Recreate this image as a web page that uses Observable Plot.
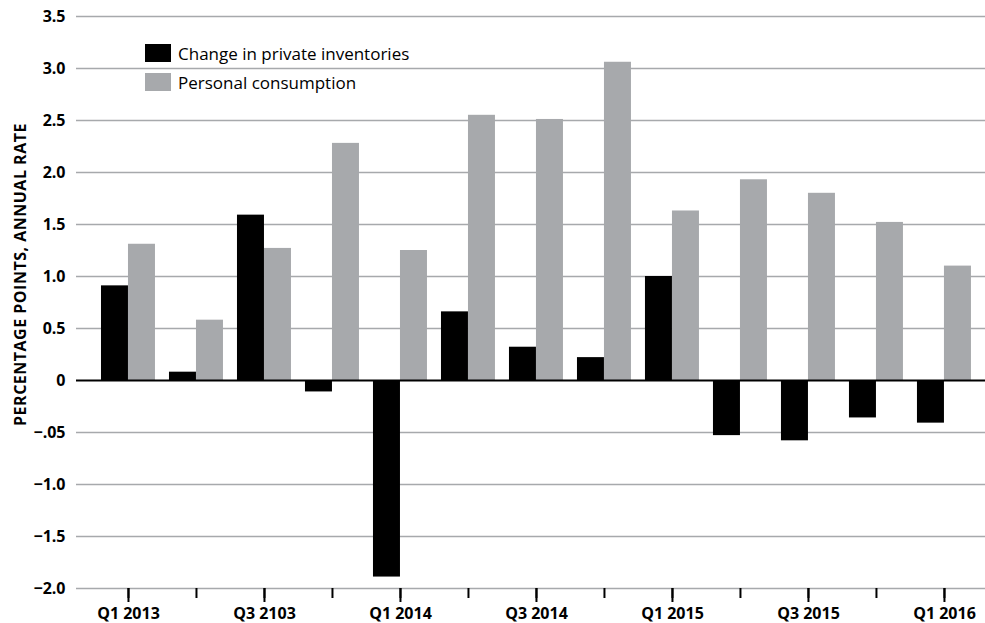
<!DOCTYPE html>
<html><head><meta charset="utf-8">
<script src="https://cdn.jsdelivr.net/npm/d3@7"></script>
<script src="https://cdn.jsdelivr.net/npm/@observablehq/plot@0.6"></script>
<style>
body{margin:0;background:#fff;}
#wrap{position:relative;width:985px;height:623px;font-family:"Open Sans",sans-serif;}
#legend{position:absolute;left:145px;top:44px;}
.item{display:flex;align-items:center;height:18px;margin-bottom:11px;font-size:17px;font-weight:500;color:#000;white-space:nowrap;}
.sw{width:26px;height:18px;margin-right:7px;flex:none;}
</style></head><body><div id="wrap"><div id="legend"></div></div>
<script>
const quarters = ["Q1 2013","Q2 2013","Q3 2103","Q4 2013","Q1 2014","Q2 2014","Q3 2014","Q4 2014","Q1 2015","Q2 2015","Q3 2015","Q4 2015","Q1 2016"];
const inventories = [0.91,0.08,1.59,-0.11,-1.89,0.66,0.32,0.22,1.00,-0.53,-0.58,-0.36,-0.41];
const consumption = [1.31,0.58,1.27,2.28,1.25,2.55,2.51,3.06,1.63,1.93,1.80,1.52,1.10];
const seriesNames = ["Change in private inventories","Personal consumption"];
const seriesColors = ["#000000","#a7a9ac"];
const yTicks = [-2,-1.5,-1,-0.5,0,0.5,1,1.5,2,2.5,3,3.5];
const yTickLabels = ["−2.0","−1.5","−1.0","−.05","0","0.5","1.0","1.5","2.0","2.5","3.0","3.5"];
const xTickLabels = ["Q1 2013","Q3 2103","Q1 2014","Q3 2014","Q1 2015","Q3 2015","Q1 2016"];
const yLabel = "PERCENTAGE POINTS, ANNUAL RATE";

const rows = quarters.flatMap((q, i) => [
  {quarter: q, series: seriesNames[0], value: inventories[i]},
  {quarter: q, series: seriesNames[1], value: consumption[i]}
]);

const half = 27;
const plot = Plot.plot({
  width: 985, height: 623,
  marginTop: 16, marginBottom: 35, marginLeft: 76, marginRight: 0,
  style: {fontFamily: '"Open Sans", sans-serif', fontSize: "16px", fontWeight: 700, color: "#000", background: "#fff"},
  x: {type: "band", domain: quarters, paddingInner: 0.206, paddingOuter: 0.287, align: 0.64, round: false, axis: null},
  y: {domain: [-2, 3.5], axis: null},
  color: {domain: seriesNames, range: seriesColors},
  marks: [
    Plot.gridY(yTicks.filter(d => d !== 0), {stroke: "#a7a9ac", strokeOpacity: 1, strokeWidth: 1.5}),
    Plot.barY(rows.filter(d => d.series === seriesNames[0]), {x: "quarter", y1: 0, y2: "value", fill: "series", insetLeft: 0, insetRight: half}),
    Plot.barY(rows.filter(d => d.series === seriesNames[1]), {x: "quarter", y1: 0, y2: "value", fill: "series", insetLeft: half, insetRight: 0}),
    Plot.ruleY([0], {stroke: "#000", strokeWidth: 2}),
    Plot.axisY({ticks: yTicks, tickSize: 0, tickPadding: 11, tickFormat: d => yTickLabels[yTicks.indexOf(d)], label: null, fontSize: 16}),
    Plot.axisX({ticks: quarters, tickSize: 10, strokeWidth: 2, stroke: "#000", tickFormat: () => "", label: null}),
    Plot.axisX({ticks: xTickLabels, tickSize: 14, strokeWidth: 2, stroke: "#000", tickPadding: 5, label: null, fontSize: 16}),
    Plot.text([yLabel], {frameAnchor: "left", rotate: -90, dx: -56, dy: -28, fontSize: 16, fontWeight: 700, textAnchor: "middle", lineAnchor: "middle", fill: "#000"})
  ]
});
document.getElementById("wrap").appendChild(plot);
d3.select(plot).selectAll("text").filter(function() { return this.textContent === yLabel; }).style("letter-spacing", "0.5px");

const color = plot.scale("color");
const legend = d3.select("#legend");
color.domain.forEach((name, i) => {
  const item = legend.append("div").attr("class", "item");
  item.append("div").attr("class", "sw").style("background", color.range[i]);
  item.append("span").text(name);
});
</script>
</body></html>
